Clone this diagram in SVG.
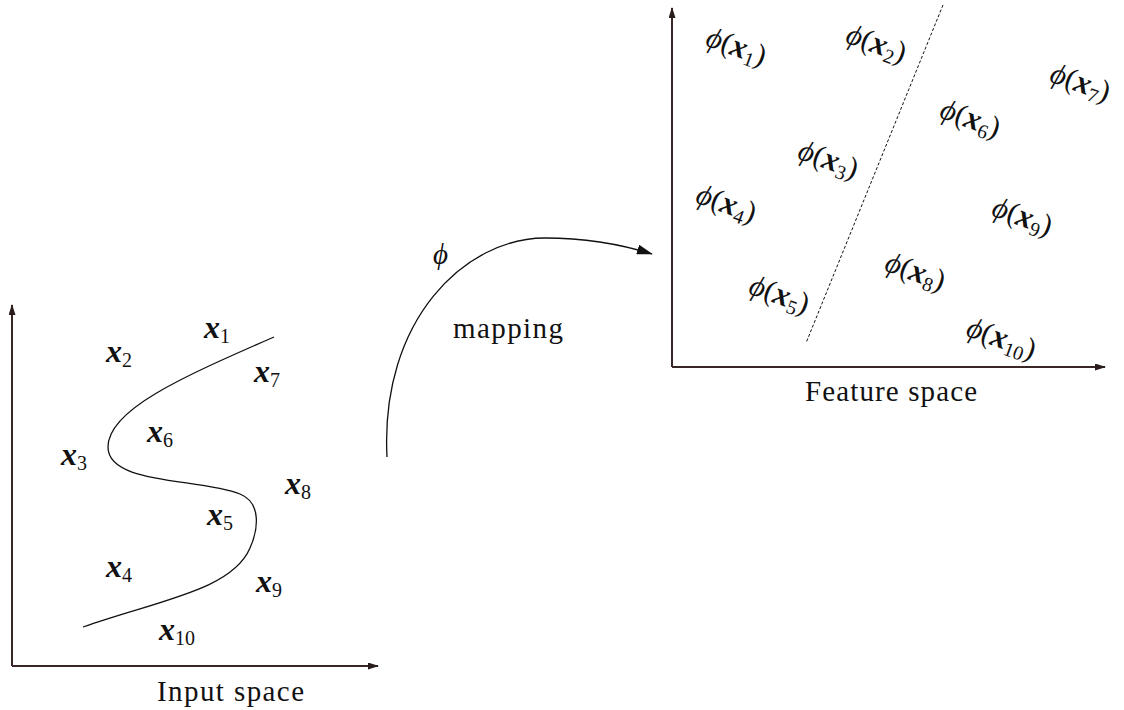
<svg xmlns="http://www.w3.org/2000/svg" width="1124" height="710" viewBox="0 0 1124 710">
<style>
text{font-family:"Liberation Serif","DejaVu Serif",serif;fill:#111}
.lab{font-size:29px}
.fl{font-size:30px}
.bx{font-weight:bold;font-style:italic;font-size:32px}
.sub{font-size:20px}
.phi{font-style:italic}
.ax{stroke:#3a2626;stroke-width:2;fill:none}
.thin{stroke:#111;stroke-width:1.3;fill:none}
</style>
<defs>
<marker id="ah" markerUnits="userSpaceOnUse" markerWidth="11" markerHeight="7" refX="10" refY="3.5" orient="auto"><path d="M0,0 L11,3.5 L0,7 z" fill="#2a1c1c"/></marker>
<marker id="ahm" markerUnits="userSpaceOnUse" markerWidth="16" markerHeight="10" refX="15" refY="5" orient="auto"><path d="M0,0 L16,5 L0,10 z" fill="#111"/></marker>
</defs>

<g id="input-space">
<path class="ax" d="M12,666 L12,305" marker-end="url(#ah)"/>
<path class="ax" d="M12,666 L378,666" marker-end="url(#ah)"/>
<text class="lab" x="157" y="701" textLength="147">Input space</text>
</g>

<g id="curve">
<path class="thin" d="M274,337 C180,378 108,410 108,447 C108,485 200,478 240,494 C262,503 258,530 250,548 C232,590 160,600 83,627"/>
</g>

<g id="input-points">
<text id="x1" class="lab" x="204" y="338"><tspan class="bx">x</tspan><tspan class="sub" dy="5">1</tspan></text>
<text id="x2" class="lab" x="106" y="362"><tspan class="bx">x</tspan><tspan class="sub" dy="5">2</tspan></text>
<text id="x7" class="lab" x="254" y="382"><tspan class="bx">x</tspan><tspan class="sub" dy="5">7</tspan></text>
<text id="x6" class="lab" x="147" y="442"><tspan class="bx">x</tspan><tspan class="sub" dy="5">6</tspan></text>
<text id="x3" class="lab" x="61" y="465"><tspan class="bx">x</tspan><tspan class="sub" dy="5">3</tspan></text>
<text id="x8" class="lab" x="285" y="494"><tspan class="bx">x</tspan><tspan class="sub" dy="5">8</tspan></text>
<text id="x5" class="lab" x="207" y="525"><tspan class="bx">x</tspan><tspan class="sub" dy="5">5</tspan></text>
<text id="x4" class="lab" x="106" y="577"><tspan class="bx">x</tspan><tspan class="sub" dy="5">4</tspan></text>
<text id="x9" class="lab" x="256" y="592"><tspan class="bx">x</tspan><tspan class="sub" dy="5">9</tspan></text>
<text id="x10" class="lab" x="159" y="640"><tspan class="bx">x</tspan><tspan class="sub" dy="5">10</tspan></text>
</g>

<g id="connectors">
<path class="thin" d="M387,457 C380,320 465,238 545,238 C585,238 620,244 652,254" marker-end="url(#ahm)"/>
</g>

<g id="mapping-label">
<text class="lab phi" x="433" y="264">ϕ</text>
<text class="lab" x="453" y="338" textLength="110">mapping</text>
</g>

<g id="feature-space">
<path class="ax" d="M672,367 L672,8" marker-end="url(#ah)"/>
<path class="ax" d="M672,367 L1105,367" marker-end="url(#ah)"/>
<text class="lab" x="805" y="401" textLength="172">Feature space</text>
<path d="M943,5 L806,343" stroke="#111" stroke-width="1" stroke-dasharray="3,2" fill="none"/>
</g>

<g id="feature-points">
<g id="p1" transform="translate(736,48) rotate(20)"><text class="fl" text-anchor="middle" y="8"><tspan class="phi">ϕ</tspan>(<tspan class="bx">x</tspan><tspan class="sub" dy="5">1</tspan><tspan dy="-5">)</tspan></text></g>
<g id="p2" transform="translate(876,45) rotate(20)"><text class="fl" text-anchor="middle" y="8"><tspan class="phi">ϕ</tspan>(<tspan class="bx">x</tspan><tspan class="sub" dy="5">2</tspan><tspan dy="-5">)</tspan></text></g>
<g id="p7" transform="translate(1080,84) rotate(20)"><text class="fl" text-anchor="middle" y="8"><tspan class="phi">ϕ</tspan>(<tspan class="bx">x</tspan><tspan class="sub" dy="5">7</tspan><tspan dy="-5">)</tspan></text></g>
<g id="p6" transform="translate(970,120) rotate(20)"><text class="fl" text-anchor="middle" y="8"><tspan class="phi">ϕ</tspan>(<tspan class="bx">x</tspan><tspan class="sub" dy="5">6</tspan><tspan dy="-5">)</tspan></text></g>
<g id="p3" transform="translate(828,161) rotate(20)"><text class="fl" text-anchor="middle" y="8"><tspan class="phi">ϕ</tspan>(<tspan class="bx">x</tspan><tspan class="sub" dy="5">3</tspan><tspan dy="-5">)</tspan></text></g>
<g id="p4" transform="translate(726,205) rotate(20)"><text class="fl" text-anchor="middle" y="8"><tspan class="phi">ϕ</tspan>(<tspan class="bx">x</tspan><tspan class="sub" dy="5">4</tspan><tspan dy="-5">)</tspan></text></g>
<g id="p9" transform="translate(1022,218) rotate(20)"><text class="fl" text-anchor="middle" y="8"><tspan class="phi">ϕ</tspan>(<tspan class="bx">x</tspan><tspan class="sub" dy="5">9</tspan><tspan dy="-5">)</tspan></text></g>
<g id="p8" transform="translate(915,273) rotate(20)"><text class="fl" text-anchor="middle" y="8"><tspan class="phi">ϕ</tspan>(<tspan class="bx">x</tspan><tspan class="sub" dy="5">8</tspan><tspan dy="-5">)</tspan></text></g>
<g id="p5" transform="translate(779,296) rotate(20)"><text class="fl" text-anchor="middle" y="8"><tspan class="phi">ϕ</tspan>(<tspan class="bx">x</tspan><tspan class="sub" dy="5">5</tspan><tspan dy="-5">)</tspan></text></g>
<g id="p10" transform="translate(1001,340) rotate(20)"><text class="fl" text-anchor="middle" y="8"><tspan class="phi">ϕ</tspan>(<tspan class="bx">x</tspan><tspan class="sub" dy="5">10</tspan><tspan dy="-5">)</tspan></text></g>
</g>
</svg>
